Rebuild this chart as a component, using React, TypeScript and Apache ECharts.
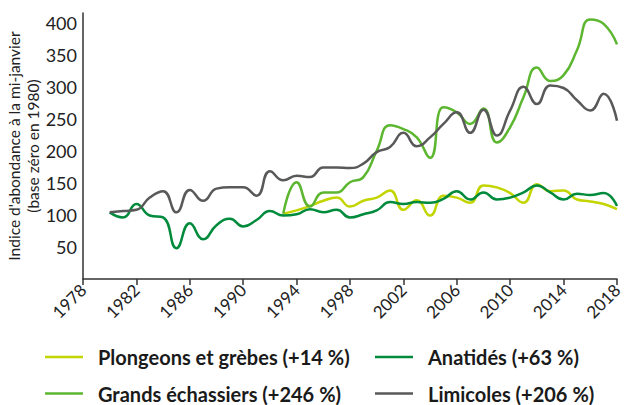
import React, { useEffect, useRef } from "react";
import * as echarts from "echarts";

const years: string[] = [];
for (let y = 1978; y <= 2018; y++) years.push(String(y));

// values from 1980 to 2018
const anatides = [104, 96, 117, 99, 96, 48, 87, 62, 84, 94, 82, 92, 106, 99, 101, 109, 104, 108, 96, 101, 107, 120, 117, 120, 119, 125, 137, 124, 135, 124, 127, 135, 146, 135, 124, 133, 131, 134, 114];
const limicoles = [104, 106, 108, 127, 137, 104, 139, 122, 141, 143, 143, 130, 168, 154, 161, 159, 174, 174, 173, 180, 198, 206, 228, 207, 221, 242, 260, 228, 264, 224, 263, 300, 273, 302, 298, 279, 263, 289, 247];
// values from 1993 to 2018
const grandsEchassiers = [102, 151, 113, 135, 135, 151, 159, 200, 240, 234, 221, 189, 268, 260, 242, 266, 213, 237, 284, 330, 309, 318, 357, 405, 398, 366];
const plongeons = [102, 107, 114, 122, 127, 113, 122, 127, 138, 108, 123, 99, 130, 127, 119, 146, 143, 134, 119, 148, 137, 138, 124, 121, 117, 109];

const names = [
  "Plongeons et grèbes (+14\u202F%)",
  "Anatidés (+63\u202F%)",
  "Grands échassiers (+246\u202F%)",
  "Limicoles (+206\u202F%)",
];
const colors = ["#c3d500", "#008a3c", "#5cb630", "#595959"];

function pad(values: number[], startYear: number): (number | null)[] {
  const out: (number | null)[] = [];
  for (let y = 1978; y < startYear; y++) out.push(null);
  return out.concat(values);
}

export default function App() {
  const ref = useRef<HTMLDivElement>(null);
  useEffect(() => {
    const chart = echarts.init(ref.current!, null, { renderer: "svg" });
    const seriesData = [
      pad(plongeons, 1993),
      pad(anatides, 1980),
      pad(grandsEchassiers, 1993),
      pad(limicoles, 1980),
    ];
    const legendText = {
      fontFamily: "Lato",
      fontWeight: "bold",
      fontSize: 20,
      color: "#1a1a1a",
      lineHeight: 24,
      padding: [0, 0, 0, 10],
    };
    const legendPos = [
      { left: 45, top: 345 },
      { left: 375, top: 345 },
      { left: 45, top: 381.5 },
      { left: 375, top: 381.5 },
    ];
    chart.setOption({
      animation: false,
      grid: { left: 83, right: 12, top: 13, bottom: 126, containLabel: false, outerBoundsMode: "none" },
      legend: names.map((n, i) => ({
        ...legendPos[i],
        padding: 0,
        icon: "rect",
        itemWidth: 38,
        itemHeight: 2.5,
        data: [n],
        textStyle: legendText,
        selectedMode: false,
      })),
      xAxis: {
        type: "category",
        data: years,
        boundaryGap: false,
        axisLine: { lineStyle: { color: "#333", width: 1.5 } },
        axisTick: { interval: 3, length: 6, lineStyle: { color: "#333", width: 1.5 } },
        axisLabel: {
          interval: 3,
          rotate: 45,
          margin: 8,
          fontFamily: "Lato",
          fontSize: 17,
          color: "#222",
        },
        splitLine: { show: false },
      },
      yAxis: {
        type: "value",
        min: 0,
        max: 415,
        interval: 50,
        name: "Indice d'abondance à la mi-janvier\n(base zéro en 1980)",
        nameLocation: "middle",
        nameRotate: 90,
        nameGap: 41,
        nameMoveOverlap: false,
        nameTextStyle: { fontFamily: "Lato", fontSize: 15.5, color: "#222", lineHeight: 19 },
        axisLine: { show: true, lineStyle: { color: "#333", width: 1.5 } },
        axisTick: { show: false },
        splitLine: { show: false },
        axisLabel: {
          margin: 6,
          fontFamily: "Lato",
          fontSize: 18,
          color: "#222",
          formatter: (v: number) => (v === 0 || v % 50 !== 0 ? "" : String(v)),
        },
      },
      series: seriesData.map((d, i) => ({
        type: "line",
        name: names[i],
        data: d,
        smooth: 0.5,
        symbol: "none",
        lineStyle: { color: colors[i], width: 2.5 },
        itemStyle: { color: colors[i] },
        z: [1, 2, 3, 4][i],
      })),
    });
    return () => chart.dispose();
  }, []);
  return (
    <div
      ref={ref}
      style={{ position: "absolute", left: 0, top: 0, width: 629, height: 405 }}
    />
  );
}
